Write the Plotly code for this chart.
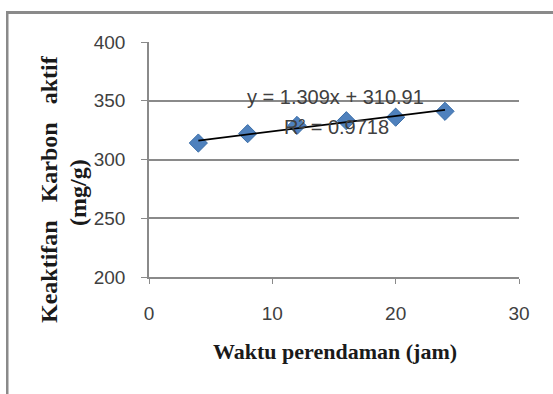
import plotly.graph_objects as go

# Data
waktu = [4, 8, 12, 16, 20, 24]
keaktifan = [314, 322, 329, 333, 336, 341]
slope = 1.309
intercept = 310.91
eq_text = "y = 1.309x + 310.91"
r2_text = "R² = 0.9718"
x_ticks = [0, 10, 20, 30]
y_ticks = [200, 250, 300, 350, 400]

L, R, T, B = 149, 34, 42, 117
W, H = 553, 394
pw, ph = W - L - R, H - T - B

def px(xp):
    return (xp - L) / pw

def py(yp):
    return (H - B - yp) / ph

trend_x = [min(waktu), max(waktu)]
trend_y = [slope * v + intercept for v in trend_x]

fig = go.Figure()
fig.add_trace(go.Scatter(
    x=waktu, y=keaktifan, mode="markers",
    marker=dict(symbol="diamond", size=14, color="#4F81BD",
                line=dict(color="#3A6EA8", width=1)),
    showlegend=False))
fig.add_trace(go.Scatter(
    x=trend_x, y=trend_y, mode="lines",
    line=dict(color="black", width=1.8), showlegend=False))

tickfont = dict(family="Liberation Sans", size=19, color="#404040")
fig.update_xaxes(range=[0, 30], tickvals=x_ticks, showgrid=False,
                 showline=True, linecolor="#8a8a8a", linewidth=1.5,
                 ticks="outside", ticklen=5, tickcolor="#8a8a8a",
                 tickfont=tickfont, ticklabelstandoff=13, zeroline=False,
                 automargin=False)
fig.update_yaxes(range=[200, 400], tickvals=y_ticks, showgrid=True,
                 gridcolor="#8a8a8a", gridwidth=1.8,
                 showline=True, linecolor="#8a8a8a", linewidth=1.5,
                 ticks="outside", ticklen=6, tickcolor="#8a8a8a",
                 tickfont=tickfont, ticklabelstandoff=12, zeroline=False,
                 automargin=False)

def ann(xp, yp, text, font, angle=0):
    fig.add_annotation(x=px(xp), y=py(yp), xref="paper", yref="paper",
                       xanchor="center", yanchor="middle",
                       text=text, showarrow=False, font=font,
                       textangle=angle)

ann_font = dict(family="Liberation Sans", size=20, color="#404040")
ann(335, 97, eq_text, ann_font)
ann(336, 127, r2_text, ann_font)

title_font = dict(family="Liberation Serif", size=22, color="#1a1a1a")
ytitle_font = dict(family="Liberation Serif", size=24, color="#1a1a1a")
ann(335, 351, "<b>Waktu perendaman (jam)</b>", title_font)
ann(49, 189, "<b>Keaktifan   Karbon   aktif</b>", ytitle_font, -90)
ann(78, 193, "<b>(mg/g)</b>", ytitle_font, -90)

frame_col = "#8a8a8a"
fig.add_shape(type="rect", xref="paper", yref="paper",
              x0=px(6), x1=px(8.5), y0=py(394), y1=py(11),
              fillcolor=frame_col, line=dict(width=0))

fig.update_layout(width=W, height=H, margin=dict(l=L, r=R, t=T, b=B),
                  paper_bgcolor="white", plot_bgcolor="white")

post = """
document.body.style.margin='0px';
document.body.style.overflow='hidden';
var bar=document.createElement('div');
bar.style.position='absolute';
bar.style.left='6px';
bar.style.top='11px';
bar.style.width='560px';
bar.style.height='3px';
bar.style.background='%s';
bar.style.pointerEvents='none';
document.body.appendChild(bar);
""" % frame_col

fig.write_html("out.html", config={"displayModeBar": False}, post_script=post)
